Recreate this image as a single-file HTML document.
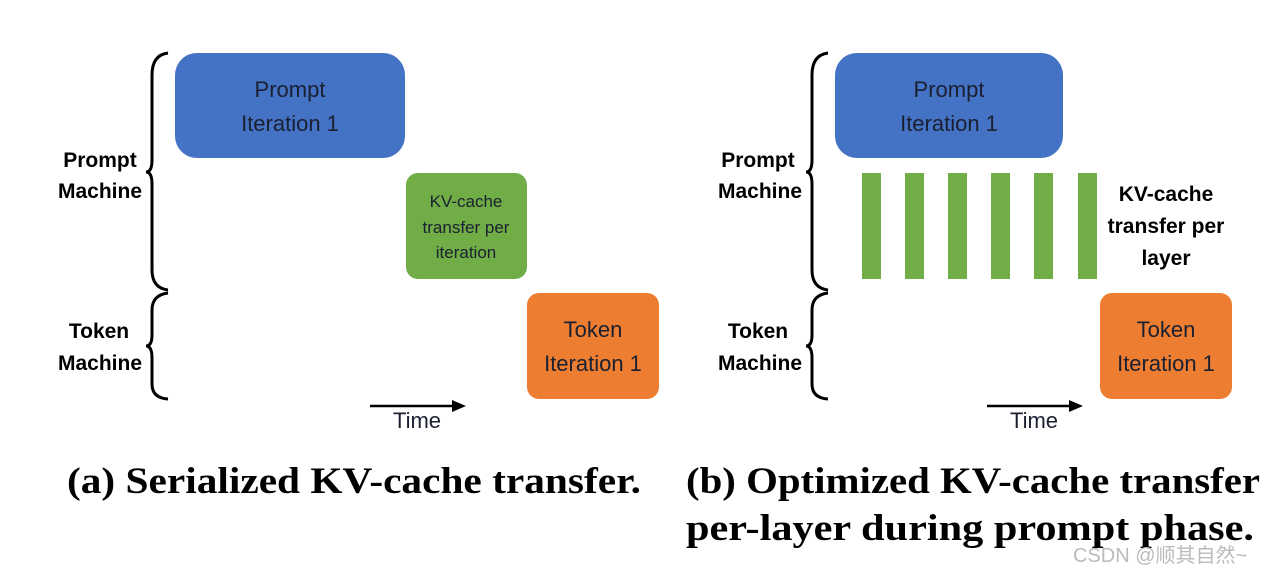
<!DOCTYPE html>
<html><head><meta charset="utf-8"><style>
body{margin:0;background:#fff;width:1280px;height:577px;overflow:hidden}
</style></head><body>
<svg width="1280" height="577" xmlns="http://www.w3.org/2000/svg" font-family="Liberation Sans, sans-serif">
<g fill="none" stroke="#000" stroke-width="3">
<path d="M168,53 Q152,55 152,75 L152,160 Q152,172 146,172 Q152,172 152,184 L152,270 Q152,288 168,290"/>
<path d="M168,293 Q152,295 152,310 L152,335 Q152,346 146,346 Q152,346 152,358 L152,384 Q152,398 168,399"/>
<path d="M828,53 Q812,55 812,75 L812,160 Q812,172 806,172 Q812,172 812,184 L812,270 Q812,288 828,290"/>
<path d="M828,293 Q812,295 812,310 L812,335 Q812,346 806,346 Q812,346 812,358 L812,384 Q812,398 828,399"/>
<line x1="370" y1="406" x2="454" y2="406" stroke-width="2.5"/>
<line x1="987" y1="406" x2="1071" y2="406" stroke-width="2.5"/>
</g>
<polygon points="452,400 466,406 452,412" fill="#000"/>
<polygon points="1069,400 1083,406 1069,412" fill="#000"/>
<g font-weight="bold" font-size="21" text-anchor="middle" fill="#000">
<text x="100" y="167">Prompt</text><text x="100" y="198">Machine</text>
<text x="99" y="338">Token</text><text x="100" y="370">Machine</text>
<text x="758" y="167">Prompt</text><text x="760" y="198">Machine</text>
<text x="758" y="338">Token</text><text x="760" y="370">Machine</text>
<text x="1166" y="201">KV-cache</text><text x="1166" y="233">transfer per</text><text x="1166" y="265">layer</text>
</g>
<rect x="175" y="53" width="230" height="105" rx="22" fill="#4472c4"/>
<rect x="835" y="53" width="228" height="105" rx="22" fill="#4472c4"/>
<rect x="406" y="173" width="121" height="106" rx="12" fill="#70ad47"/>
<rect x="527" y="293" width="132" height="106" rx="12" fill="#ed7d31"/>
<rect x="1100" y="293" width="132" height="106" rx="12" fill="#ed7d31"/>
<g fill="#70ad47">
<rect x="862" y="173" width="19" height="106"/><rect x="905" y="173" width="19" height="106"/>
<rect x="948" y="173" width="19" height="106"/><rect x="991" y="173" width="19" height="106"/>
<rect x="1034" y="173" width="19" height="106"/><rect x="1078" y="173" width="19" height="106"/>
</g>
<g font-size="22" text-anchor="middle" fill="#1a2030">
<text x="290" y="97">Prompt</text><text x="290" y="131">Iteration 1</text>
<text x="949" y="97">Prompt</text><text x="949" y="131">Iteration 1</text>
<text x="593" y="337">Token</text><text x="593" y="371">Iteration 1</text>
<text x="1166" y="337">Token</text><text x="1166" y="371">Iteration 1</text>
<text x="417" y="428">Time</text><text x="1034" y="428">Time</text>
</g>
<g font-size="17" text-anchor="middle" fill="#1a2030">
<text x="466" y="207">KV-cache</text><text x="466" y="233">transfer per</text><text x="466" y="258">iteration</text>
</g>
<g font-family="Liberation Serif, serif" font-weight="bold" font-size="37" fill="#000">
<text x="67" y="493" textLength="574" lengthAdjust="spacingAndGlyphs">(a) Serialized KV-cache transfer.</text>
<text x="686" y="493" textLength="574" lengthAdjust="spacingAndGlyphs">(b) Optimized KV-cache transfer</text>
<text x="686" y="540" textLength="568" lengthAdjust="spacingAndGlyphs">per-layer during prompt phase.</text>
</g>
<text x="1073" y="562" font-size="20" fill="#bbb" font-family="Liberation Sans, Noto Sans CJK SC, sans-serif">CSDN @顺其自然~</text>
</svg>
</body></html>
